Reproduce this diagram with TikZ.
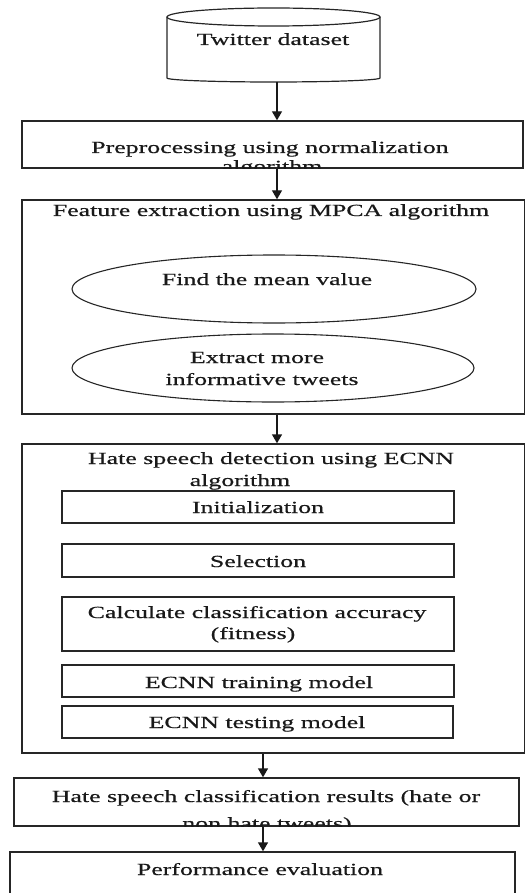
\documentclass[tikz,border=0pt]{standalone}
\usepackage{fontspec}
\setmainfont{Liberation Serif}[FakeStretch=1.52,FakeBold=0.6]
\usetikzlibrary{arrows.meta,shapes.geometric}

\begin{document}
\begin{tikzpicture}[x=1pt,y=-1pt,
  frame/.style={draw=black!85, line width=1.4pt, rectangle, inner sep=0pt},
  oval/.style={draw=black!85, line width=1.1pt, ellipse, inner sep=0pt},
  txt/.style={anchor=base, inner sep=0pt, text=black!90, font=\fontsize{17}{23}\selectfont},
  arr/.style={draw=black!90, line width=1.4pt, -{Triangle[width=10pt,length=9pt]}},
  cylline/.style={draw=black!85, line width=1.2pt}]

% page area
\clip (0,0) rectangle (526,893);

% data store: Twitter dataset
\draw[cylline] (167,17) -- (167,78) arc[start angle=180, end angle=360, x radius=106.5pt, y radius=4pt] -- (380,17);
\draw[cylline] (273.5,17) ellipse[x radius=106.5pt, y radius=9pt];
\node[txt] (cyl) at (273,45) {Twitter dataset};
\coordinate (cylbase) at (277,82);

% preprocessing
\node[frame, minimum width=501pt, minimum height=47pt] (pre) at (272.5,144.5) {};
\node[txt] (pre1) at (270,153) {Preprocessing using normalization};
\begin{scope}
  \clip (pre.south west) rectangle (pre.north east);
  \node[txt] (pre2) at (272,172) {algorithm};
\end{scope}

% feature extraction
\node[frame, minimum width=502.5pt, minimum height=214pt] (feat) at (273.25,307) {};
\node[txt] (feattitle) at (271,216) {Feature extraction using MPCA algorithm};
\node[oval, minimum width=404pt, minimum height=68pt] (mean) at (274,289) {};
\node[txt] (meantxt) at (267,285) {Find the mean value};
\node[oval, minimum width=402pt, minimum height=68pt] (info) at (273,368) {};
\node[txt] (info1) at (257,363) {Extract more};
\node[txt] (info2) at (262,385) {informative tweets};

% hate speech detection
\node[frame, minimum width=502.5pt, minimum height=309pt] (ecnn) at (273.25,598.5) {};
\node[txt] (ecnn1) at (271,464) {Hate speech detection using ECNN};
\node[txt] (ecnn2) at (240,486) {algorithm};
\node[frame, minimum width=392pt, minimum height=32pt] (init) at (258,507) {};
\node[txt] (inittxt) at (258,513) {Initialization};
\node[frame, minimum width=392pt, minimum height=33pt] (sel) at (258,560.5) {};
\node[txt] (seltxt) at (258,567) {Selection};
\node[frame, minimum width=392pt, minimum height=54pt] (calc) at (258,624) {};
\node[txt] (calc1) at (257,618) {Calculate classification accuracy};
\node[txt] (calc2) at (253,639) {(fitness)};
\node[frame, minimum width=392pt, minimum height=32pt] (train) at (258,681) {};
\node[txt] (traintxt) at (259,688) {ECNN training model};
\node[frame, minimum width=391pt, minimum height=32pt] (test) at (257.5,722) {};
\node[txt] (testtxt) at (257,728) {ECNN testing model};

% classification results
\node[frame, minimum width=505pt, minimum height=48pt] (res) at (266.5,802) {};
\node[txt] (res1) at (266,802) {Hate speech classification results (hate or};
\begin{scope}
  \clip (res.south west) rectangle (res.north east);
  \node[txt] (res2) at (267,829) {non hate tweets)};
\end{scope}

% performance evaluation
\node[frame, minimum width=505pt, minimum height=58pt] (perf) at (262.5,881) {};
\node[txt] (perftxt) at (260,875) {Performance evaluation};

% flow
\coordinate (lowx) at (263,0);
\draw[arr] (cylbase) -- (cylbase |- pre.north);
\draw[arr] (pre.south -| cylbase) -- (feat.north -| cylbase);
\draw[arr] (feat.south -| cylbase) -- (ecnn.north -| cylbase);
\draw[arr] (ecnn.south -| lowx) -- (res.north -| lowx);
\draw[arr] (res.south -| lowx) -- (perf.north -| lowx);
\end{tikzpicture}
\end{document}
